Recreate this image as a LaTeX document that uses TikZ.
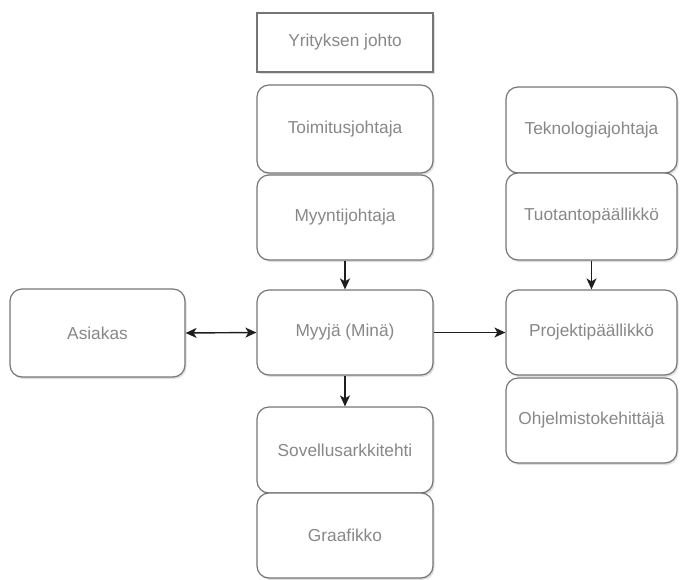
\documentclass[tikz,border=0pt]{standalone}
\usepackage{fontspec}
\setmainfont{Liberation Sans}
\usetikzlibrary{arrows.meta,shadows}
\definecolor{boxline}{HTML}{767676}
\definecolor{boxtext}{HTML}{888888}
\definecolor{arrowline}{HTML}{1E1E1E}
\begin{document}
\begin{tikzpicture}[x=1pt, y=-1pt]
        \tikzset{every node/.style = {shape=rectangle, rounded corners=12pt, draw=boxline, line width=1.2pt,
                fill=white, text=boxtext, font=\fontsize{17.3}{20}\selectfont, inner sep=0pt,
                drop shadow={opacity=0.25, shadow xshift=1.5pt, shadow yshift=-2pt}}}
        \tikzset{tip/.tip = {Stealth[length=11pt, width=10pt, inset=3pt]}}
        \tikzset{link/.style = {draw=arrowline, line width=1.4pt, -tip}}

        \useasboundingbox (0, 0) rectangle (680, 579);

        \node[sharp corners, minimum width=176pt, minimum height=59pt] (yj) at (345, 42.5) {Yrityksen johto};
        \node[minimum width=176pt, minimum height=88pt] (tj) at (345, 129) {Toimitusjohtaja};
        \node[minimum width=176pt, minimum height=85pt] (mj) at (345, 217.5) {Myyntijohtaja};
        \node[minimum width=176pt, minimum height=85pt] (me) at (345, 332.5) {Myyjä (Minä)};
        \node[minimum width=176pt, minimum height=86pt] (sa) at (345, 450) {Sovellusarkkitehti};
        \node[minimum width=176pt, minimum height=85pt] (gr) at (345, 535.5) {Graafikko};

        \node[minimum width=175pt, minimum height=88pt] (as) at (97.5, 333) {Asiakas};

        \node[minimum width=171pt, minimum height=86pt] (tk) at (591.5, 130) {Teknologiajohtaja};
        \node[minimum width=171pt, minimum height=87pt] (tp) at (591.5, 216.5) {Tuotantopäällikkö};
        \node[minimum width=171pt, minimum height=85pt] (pp) at (591.5, 332.5) {Projektipäällikkö};
        \node[minimum width=171pt, minimum height=85pt] (oh) at (591.5, 420.5) {Ohjelmistokehittäjä};

        \draw[link] (mj.south) -- (me.north);
        \draw[link] (me.south) -- (sa.north);
        \draw[link] (tp.south) -- (pp.north);
        \draw[link] (me.east) -- (pp.west);
        \draw[link, tip-tip] (as.east) -- (me.west);

    \end{tikzpicture}
\end{document}
